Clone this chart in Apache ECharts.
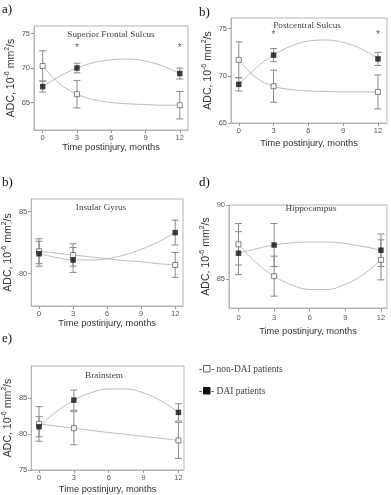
<!DOCTYPE html>
<html>
<head>
<meta charset="utf-8">
<script src="https://cdn.jsdelivr.net/npm/echarts@6/dist/echarts.min.js"></script>
<style>
  html, body { margin: 0; padding: 0; background: #fff; }
  #chart { width: 391px; height: 495px; }
</style>
</head>
<body>
<div id="chart"></div>
<script>
const months = [0, 3, 12];
const fitMonths = [0, 1.5, 3, 4.5, 6, 7.5, 9, 10.5, 12];
const xTicks = [0, 3, 6, 9, 12];
const starMonths = [3, 12];

// a) Superior Frontal Sulcus
const sfsNonDai = [70.3, 66.2, 64.6];
const sfsNonDaiSd = [2.2, 2.0, 2.0];
const sfsDai = [67.3, 70.0, 69.2];
const sfsDaiSd = [0.8, 0.7, 0.8];
const sfsNonDaiFit = [70.3, 67.7, 66.2, 65.4, 65.0, 64.8, 64.7, 64.6, 64.6];
const sfsDaiFit = [67.3, 68.8, 70.0, 70.8, 71.2, 71.3, 71.0, 70.3, 69.2];
const sfsStars = [72.9, 72.9];
const sfsTicks = [65, 70, 75];

// b) Postcentral Sulcus
const pcsNonDai = [71.7, 68.9, 68.3];
const pcsNonDaiSd = [1.9, 1.7, 1.8];
const pcsDai = [69.1, 72.2, 71.8];
const pcsDaiSd = [0.7, 0.7, 0.7];
const pcsNonDaiFit = [71.7, 69.8, 68.9, 68.55, 68.4, 68.35, 68.3, 68.3, 68.3];
const pcsDaiFit = [69.1, 70.85, 72.2, 73.15, 73.7, 73.8, 73.55, 72.9, 71.8];
const pcsStars = [74.3, 74.3];
const pcsTicks = [65, 70, 75];

// b) Insular Gyrus
const igNonDai = [81.8, 81.5, 80.7];
const igNonDaiSd = [1.0, 0.9, 1.0];
const igDai = [81.6, 81.1, 83.3];
const igDaiSd = [1.0, 1.0, 1.0];
const igNonDaiFit = [81.8, 81.65, 81.5, 81.35, 81.2, 81.05, 80.95, 80.8, 80.7];
const igDaiFit = [81.6, 81.3, 81.1, 81.1, 81.2, 81.5, 81.95, 82.55, 83.3];
const igTicks = [80, 85];

// d) Hippocampus
const hipNonDai = [87.35, 85.2, 86.3];
const hipNonDaiSd = [1.4, 1.35, 1.35];
const hipDai = [86.75, 87.3, 86.95];
const hipDaiSd = [1.45, 1.45, 1.1];
const hipNonDaiFit = [87.35, 86.1, 85.2, 84.6, 84.3, 84.3, 84.65, 85.3, 86.3];
const hipDaiFit = [86.75, 87.05, 87.3, 87.45, 87.5, 87.5, 87.4, 87.2, 86.95];
const hipTicks = [85, 90];

// e) Brainstem
const bsNonDai = [81.4, 80.8, 79.1];
const bsNonDaiSd = [2.4, 2.3, 2.5];
const bsDai = [81.0, 84.7, 83.0];
const bsDaiSd = [1.4, 1.4, 1.2];
const bsNonDaiFit = [81.4, 81.1, 80.8, 80.5, 80.2, 79.95, 79.65, 79.4, 79.1];
const bsDaiFit = [81.0, 83.1, 84.7, 85.75, 86.25, 86.25, 85.7, 84.6, 83.0];
const bsTicks = [75, 80, 85];

const SANS = 'Liberation Sans, Arial, sans-serif';
const SERIF = 'Liberation Serif, Times New Roman, serif';

const panels = [
  { label: 'a)', labelPos: [2, 3.5], title: 'Superior Frontal Sulcus', titlePos: [111, 35],
    grid: { left: 34, top: 26, width: 154, height: 104 }, x: [-0.76, 12.72], y: [61, 76.1], yTicks: sfsTicks,
    nameGap: 13, labelMargin: 4,
    nonDai: sfsNonDai, nonDaiSd: sfsNonDaiSd, dai: sfsDai, daiSd: sfsDaiSd,
    nonDaiFit: sfsNonDaiFit, daiFit: sfsDaiFit, stars: sfsStars },
  { label: 'b)', labelPos: [199, 6], title: 'Postcentral Sulcus', titlePos: [307, 26],
    grid: { left: 231, top: 18, width: 156, height: 105 }, x: [-0.67, 12.78], y: [65, 76.14], yTicks: pcsTicks,
    nameGap: 16, labelMargin: 4,
    nonDai: pcsNonDai, nonDaiSd: pcsNonDaiSd, dai: pcsDai, daiSd: pcsDaiSd,
    nonDaiFit: pcsNonDaiFit, daiFit: pcsDaiFit, stars: pcsStars },
  { label: 'b)', labelPos: [2, 176], title: 'Insular Gyrus', titlePos: [101, 208],
    grid: { left: 27, top: 199, width: 156, height: 107 }, x: [-0.69, 12.69], y: [77.4, 86], yTicks: igTicks,
    nameGap: 11, labelMargin: 4,
    nonDai: igNonDai, nonDaiSd: igNonDaiSd, dai: igDai, daiSd: igDaiSd,
    nonDaiFit: igNonDaiFit, daiFit: igDaiFit, stars: null },
  { label: 'd)', labelPos: [199, 176], title: 'Hippocampus', titlePos: [311, 209],
    grid: { left: 229, top: 205, width: 158, height: 103 }, x: [-0.8, 12.51], y: [83.05, 90], yTicks: hipTicks,
    nameGap: 19, labelMargin: 6,
    nonDai: hipNonDai, nonDaiSd: hipNonDaiSd, dai: hipDai, daiSd: hipDaiSd,
    nonDaiFit: hipNonDaiFit, daiFit: hipDaiFit, stars: null },
  { label: 'e)', labelPos: [2, 332], title: 'Brainstem', titlePos: [104, 376],
    grid: { left: 28, top: 366, width: 156, height: 105 }, x: [-0.67, 12.48], y: [75, 89.44], yTicks: bsTicks,
    nameGap: 15, labelMargin: 4,
    nonDai: bsNonDai, nonDaiSd: bsNonDaiSd, dai: bsDai, daiSd: bsDaiSd,
    nonDaiFit: bsNonDaiFit, daiFit: bsDaiFit, stars: null }
];

function errorBars(params, api) {
  const x = api.value(0);
  const lo = api.coord([x, api.value(1)]);
  const hi = api.coord([x, api.value(2)]);
  const w = 3.5;
  const style = { stroke: '#8a8a8a', lineWidth: 1 };
  return {
    type: 'group',
    children: [
      { type: 'line', shape: { x1: lo[0], y1: lo[1], x2: hi[0], y2: hi[1] }, style },
      { type: 'line', shape: { x1: lo[0] - w, y1: lo[1], x2: lo[0] + w, y2: lo[1] }, style },
      { type: 'line', shape: { x1: hi[0] - w, y1: hi[1], x2: hi[0] + w, y2: hi[1] }, style }
    ]
  };
}

const grids = [], xAxes = [], yAxes = [], series = [], graphics = [];

panels.forEach((p, i) => {
  grids.push(Object.assign({ show: true, borderColor: '#b5b5b5', borderWidth: 1 }, p.grid));
  xAxes.push({
    type: 'value', gridIndex: i, min: p.x[0], max: p.x[1],
    axisLine: { onZero: false, lineStyle: { color: '#b5b5b5' } },
    axisTick: { length: 3, customValues: xTicks, lineStyle: { color: '#999' } },
    axisLabel: { customValues: xTicks, fontSize: 7.5, color: '#555', margin: p.labelMargin, fontFamily: SANS },
    splitLine: { show: false },
    name: 'Time postinjury, months', nameLocation: 'middle', nameGap: p.nameGap,
    nameTextStyle: { fontSize: 9.3, color: '#333', fontFamily: SANS }
  });
  yAxes.push({
    type: 'value', gridIndex: i, min: p.y[0], max: p.y[1],
    axisLine: { onZero: false, lineStyle: { color: '#b5b5b5' } },
    axisTick: { length: 3, customValues: p.yTicks, lineStyle: { color: '#999' } },
    axisLabel: { customValues: p.yTicks, fontSize: 7.5, color: '#555', margin: 4, fontFamily: SANS },
    splitLine: { show: false },
    name: 'ADC, 10{s|-6} mm{s|2}/s', nameLocation: 'middle', nameGap: 13, nameRotate: 90,
    nameTextStyle: {
      fontSize: 10.5, color: '#333', fontFamily: SANS, lineHeight: 14,
      rich: { s: { fontSize: 7, color: '#333', fontFamily: SANS, verticalAlign: 'top', lineHeight: 14 } }
    }
  });

  const fitLine = (name, vals) => ({
    type: 'line', name: name + ' fit', xAxisIndex: i, yAxisIndex: i, smooth: 0.4,
    showSymbol: false, silent: true, z: 1,
    lineStyle: { color: '#bdbdbd', width: 1 },
    data: fitMonths.map((m, k) => [m, vals[k]])
  });
  series.push(fitLine('non-DAI', p.nonDaiFit), fitLine('DAI', p.daiFit));

  const bars = (vals, sd) => ({
    type: 'custom', xAxisIndex: i, yAxisIndex: i, renderItem: errorBars, z: 2, silent: true,
    data: months.map((m, k) => [m, vals[k] - sd[k], vals[k] + sd[k]])
  });
  series.push(bars(p.nonDai, p.nonDaiSd), bars(p.dai, p.daiSd));

  series.push({
    type: 'scatter', name: 'non-DAI patients', xAxisIndex: i, yAxisIndex: i, symbol: 'rect', symbolSize: 5, z: 4,
    itemStyle: { color: '#fff', borderColor: '#666', borderWidth: 1 },
    data: months.map((m, k) => [m, p.nonDai[k]])
  });
  series.push({
    type: 'scatter', name: 'DAI patients', xAxisIndex: i, yAxisIndex: i, symbol: 'rect', symbolSize: 5.5, z: 5,
    itemStyle: { color: '#111' },
    data: months.map((m, k) => [m, p.dai[k]])
  });
  if (p.stars) {
    series.push({
      type: 'scatter', xAxisIndex: i, yAxisIndex: i, symbolSize: 0, silent: true,
      label: { show: true, position: 'inside', formatter: '*', fontSize: 10, color: '#333', fontFamily: SANS },
      data: starMonths.map((m, k) => [m, p.stars[k]])
    });
  }

  graphics.push({
    type: 'text', x: p.labelPos[0], y: p.labelPos[1],
    style: { text: p.label, font: '13px ' + SERIF, fill: '#111' }
  });
  graphics.push({
    type: 'text', x: p.titlePos[0], y: p.titlePos[1],
    style: { text: p.title, font: '9.2px ' + SERIF, fill: '#444', align: 'center', verticalAlign: 'middle' }
  });
});

// legend, drawn as text plus the two marker squares
[
  { y: 369, fill: '#fff', stroke: '#666', text: 'non-DAI patients' },
  { y: 391, fill: '#111', stroke: '#111', text: 'DAI patients' }
].forEach(item => {
  graphics.push({ type: 'text', x: 199, y: item.y, style: { text: '-', font: '9.5px ' + SERIF, fill: '#333', verticalAlign: 'middle' } });
  graphics.push({ type: 'rect', shape: { x: 203.5, y: item.y - 3.5, width: 6.5, height: 6.5 }, style: { fill: item.fill, stroke: item.stroke, lineWidth: 1 } });
  graphics.push({ type: 'text', x: 211, y: item.y, style: { text: '- ' + item.text, font: '9.5px ' + SERIF, fill: '#444', verticalAlign: 'middle' } });
});

const chart = echarts.init(document.getElementById('chart'));
chart.setOption({
  animation: false,
  backgroundColor: '#fff',
  grid: grids,
  xAxis: xAxes,
  yAxis: yAxes,
  series,
  graphic: graphics
});
</script>
</body>
</html>
